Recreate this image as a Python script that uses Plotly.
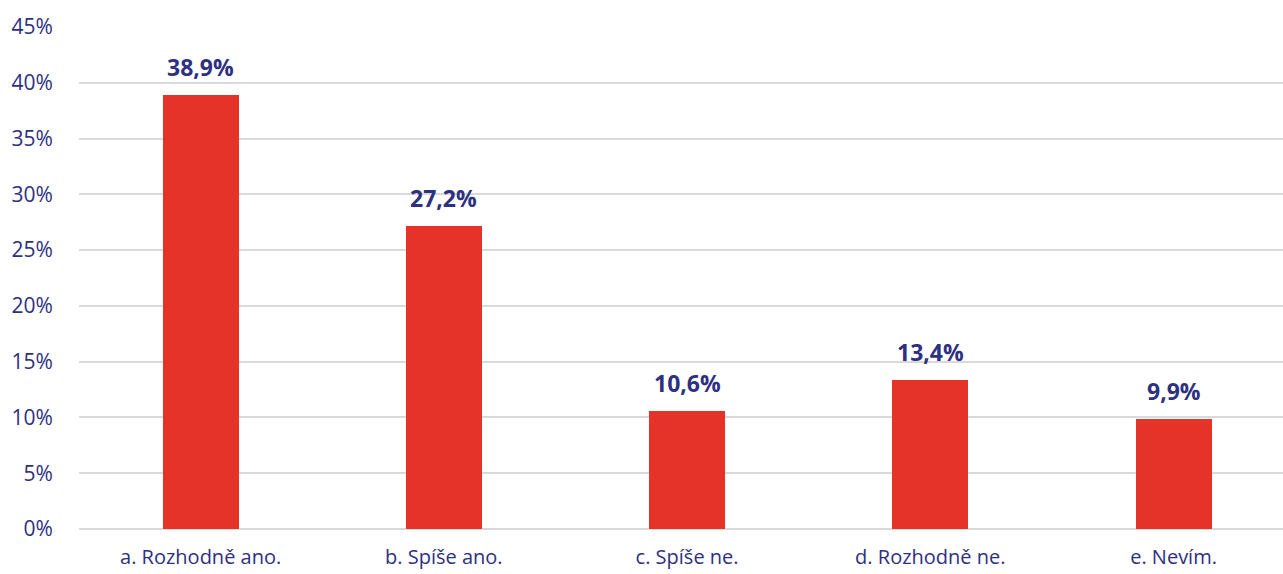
import plotly.graph_objects as go

categories = ["a. Rozhodně ano.", "b. Spíše ano.", "c. Spíše ne.", "d. Rozhodně ne.", "e. Nevím."]
values = [38.9, 27.2, 10.6, 13.4, 9.9]
labels = ["38,9%", "27,2%", "10,6%", "13,4%", "9,9%"]
tick_vals = [0, 5, 10, 15, 20, 25, 30, 35, 40, 45]
tick_text = [f"{v}%" for v in tick_vals]

navy = "#2e3080"
red = "#e5332a"

fig = go.Figure()
fig.add_trace(go.Bar(
    x=categories,
    y=values,
    marker=dict(color=red, line=dict(width=0)),
    width=0.3125,
    showlegend=False,
    hoverinfo="skip",
))

# value labels above bars
for cat, val, lab in zip(categories, values, labels):
    fig.add_annotation(
        x=cat, y=val, text=lab, showarrow=False,
        yanchor="bottom", yshift=10,
        font=dict(family="Open Sans", size=23, color=navy, weight="bold"),
    )

fig.update_layout(
    width=1283,
    height=574,
    margin=dict(l=79, r=0, t=27, b=45),
    plot_bgcolor="white",
    paper_bgcolor="white",
    font=dict(family="Open Sans", size=21, color=navy),
    bargap=0,
    yaxis=dict(
        range=[0, 45],
        automargin=False,
        tickvals=tick_vals,
        ticktext=tick_text,
        showgrid=True,
        gridcolor="#d9d9d9",
        gridwidth=1.5,
        zeroline=True,
        zerolinecolor="#d9d9d9",
        zerolinewidth=1.5,
        ticks="outside",
        ticklen=21,
        tickcolor="rgba(0,0,0,0)",
        tickfont=dict(size=21, color=navy),
    ),
    xaxis=dict(
        range=[-0.5, 4.45],
        automargin=False,
        showline=False,
        ticks="outside",
        ticklen=10,
        tickcolor="rgba(0,0,0,0)",
        tickfont=dict(size=20, color=navy),
    ),
)

fig.write_html("out.html", config={"displayModeBar": False},
               post_script="document.body.style.margin='0';")
